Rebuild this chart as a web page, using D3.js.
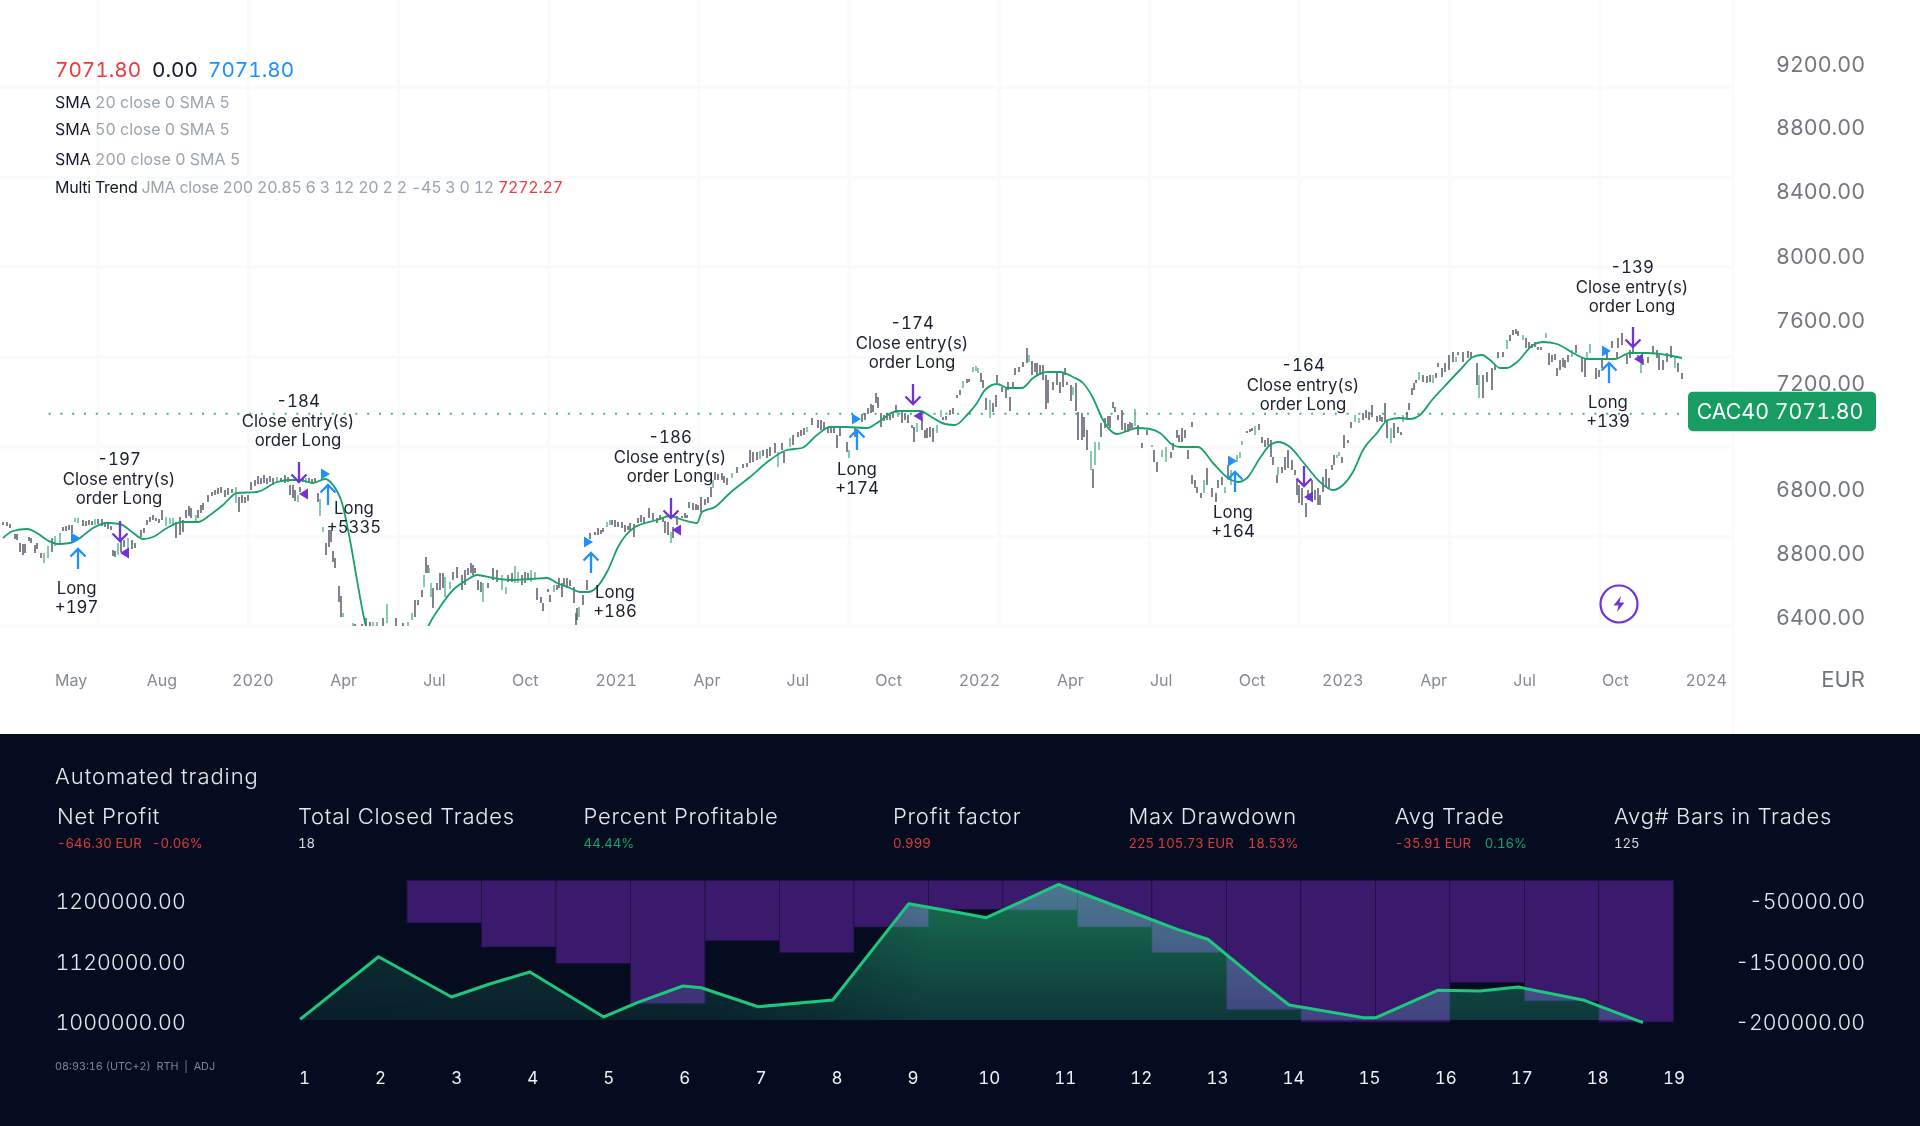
<!DOCTYPE html>
<html><head><meta charset="utf-8">
<script src="https://cdn.jsdelivr.net/npm/d3@7"></script>
<style>html,body{margin:0;padding:0;background:#fff}svg{display:block}text{font-family:Inter,sans-serif;font-variant-numeric:tabular-nums;font-feature-settings:"tnum" 1}</style>
</head><body><svg id="c" width="1920" height="1126"></svg>
<script>
// ---------- price chart data ----------
const quarterLabels=["May","Aug","2020","Apr","Jul","Oct","2021","Apr","Jul","Oct","2022","Apr","Jul","Oct","2023","Apr","Jul","Oct","2024"];
const priceTicks=[6400,6600,6800,7200,7600,8000,8400,8800,9200];
const priceTickLabels=["6400.00","8800.00","6800.00","7200.00","7600.00","8000.00","8400.00","8800.00","9200.00"];
const gridPrices=[8702,8253,7805,7355,6905,6458,6010];
const gridColumns=[0,1,2,3,4,5,6,7,8,9,10];
const lastPrice=7071.8;
const barSlot=[3,7,10,15,17,20,23,25,29,31,
35,37,41,44,48,52,55,60,63,66,
69,72,75,78,83,86,89,92,95,98,
102,105,108,111,113,115,118,121,124,128,
132,135,141,144,147,150,153,156,159,162,
166,170,173,176,180,183,186,189,191,196,
198,201,203,208,212,215,218,221,225,228,
232,236,239,242,245,248,251,255,258,261,
264,267,270,273,277,281,285,288,290,293,
295,298,300,303,306,309,312,315,318,320,
323,326,329,331,333,335,339,341,343,353,
355,362,366,370,373,377,383,387,396,403,
408,412,415,418,422,424,426,428,429,431,
433,437,440,443,445,450,453,457,462,465,
468,471,473,475,478,481,483,488,493,497,
502,506,508,512,515,518,522,525,528,531,
535,537,541,543,548,550,554,557,559,562,
564,567,570,574,576,577,579,583,587,590,
595,598,601,603,607,610,612,615,618,622,
625,628,630,634,638,641,644,649,653,657,
660,663,665,668,671,673,677,682,685,687,
689,693,696,698,701,705,708,711,713,715,
718,722,724,727,732,737,743,747,750,753,
757,760,763,767,770,775,778,782,784,790,
793,798,801,804,807,812,818,821,824,828,
831,834,837,840,847,849,855,862,865,868,
871,873,876,878,881,884,887,890,893,896,
898,902,905,908,912,914,917,922,925,927,
930,933,937,941,943,946,950,953,957,960,
963,967,969,973,976,978,981,983,986,990,
993,996,997,1002,1006,1008,1010,1013,1015,1019,
1023,1027,1029,1032,1035,1037,1040,1043,1046,1048,
1053,1057,1060,1063,1065,1067,1071,1073,1076,1078,
1082,1084,1087,1091,1093,1095,1099,1101,1105,1108,
1110,1113,1115,1118,1122,1125,1128,1130,1132,1135,
1138,1142,1147,1152,1154,1157,1162,1166,1171,1173,
1177,1179,1182,1185,1188,1192,1192,1195,1197,1201,
1204,1207,1212,1216,1218,1222,1225,1228,1231,1237,
1240,1242,1247,1250,1252,1255,1259,1262,1265,1268,
1271,1273,1277,1278,1282,1285,1288,1292,1295,1297,
1299,1302,1306,1308,1312,1315,1318,1320,1323,1326,
1329,1332,1334,1337,1339,1342,1344,1348,1351,1355,
1359,1363,1366,1369,1372,1377,1380,1382,1385,1387,
1391,1394,1398,1401,1403,1407,1409,1412,1414,1416,
1419,1423,1427,1430,1433,1436,1438,1442,1445,1449,
1453,1456,1458,1463,1468,1471,1477,1479,1483,1487,
1492,1495,1498,1503,1507,1510,1513,1516,1518,1523,
1526,1529,1532,1535,1538,1541,1546,1549,1552,1555,
1557,1560,1563,1565,1568,1572,1576,1582,1585,1587,
1590,1596,1599,1602,1607,1612,1617,1618,1622,1627,
1630,1633,1638,1641,1643,1648,1653,1657,1659,1663,
1667,1671,1675,1678,1682];
const barHigh=[6530,6530,6520,6470,6470,6425,6420,6420,6455,6450,
6415,6425,6375,6375,6410,6450,6460,6475,6505,6510,
6515,6515,6550,6550,6540,6535,6540,6535,6545,6545,
6545,6530,6520,6510,6390,6385,6425,6440,6440,6450,
6440,6425,6490,6500,6540,6555,6565,6550,6545,6590,
6555,6550,6550,6530,6555,6540,6590,6610,6600,6565,
6590,6615,6625,6665,6680,6690,6700,6705,6690,6700,
6695,6705,6655,6665,6655,6665,6730,6740,6760,6750,
6765,6750,6760,6750,6755,6750,6765,6755,6715,6715,
6690,6665,6705,6750,6750,6750,6745,6750,6675,6645,
6505,6425,6490,6490,6385,6350,6210,6160,6075,6025,
6020,6020,6050,6030,6030,6030,6050,6120,6050,6025,
6030,6075,6140,6140,6190,6265,6355,6315,6300,6225,
6200,6225,6275,6275,6255,6230,6280,6305,6265,6290,
6300,6325,6315,6300,6240,6230,6225,6225,6300,6290,
6265,6205,6265,6275,6310,6280,6265,6280,6275,6290,
6280,6200,6155,6125,6195,6165,6215,6215,6250,6225,
6250,6250,6240,6205,6075,6100,6105,6165,6240,6475,
6480,6500,6490,6500,6530,6540,6540,6540,6530,6530,
6515,6510,6525,6520,6550,6565,6555,6600,6575,6550,
6565,6555,6535,6530,6480,6505,6560,6560,6575,6565,
6630,6625,6620,6615,6655,6645,6655,6705,6740,6780,
6770,6775,6760,6750,6775,6805,6820,6825,6890,6880,
6880,6885,6890,6895,6905,6925,6880,6925,6880,6950,
6965,6980,6990,7000,7005,7050,7040,7040,7030,7005,
7000,7000,6965,7000,6930,6890,7005,7070,7075,7100,
7120,7115,7175,7155,7075,7065,7075,7065,7075,7115,
7090,7080,7075,7065,7015,7005,7025,7055,6990,7000,
7005,7000,7015,7090,7055,7060,7090,7100,7165,7190,
7235,7245,7245,7305,7310,7300,7275,7240,7150,7140,
7125,7165,7265,7205,7205,7230,7155,7230,7300,7305,
7330,7400,7365,7335,7325,7325,7315,7315,7265,7240,
7230,7275,7230,7275,7300,7230,7215,7205,7225,7080,
7075,7055,6990,6885,6795,6930,6930,7025,7050,7060,
7060,7130,7105,7065,7090,7025,7020,7030,7025,7095,
7015,6925,6990,6915,6890,6830,6890,6905,6880,6925,
6990,6965,7000,6990,6890,7030,6765,6740,6705,6675,
6740,6800,6700,6675,6740,6755,6705,6815,6790,6865,
6880,6935,6985,6995,7000,7010,7020,6955,6940,6950,
6940,6855,6765,6805,6805,6855,6890,6840,6790,6740,
6715,6700,6625,6690,6740,6690,6700,6665,6755,6795,
6750,6815,6865,6865,6880,6855,6965,6940,7030,7065,
7050,7075,7090,7080,7115,7060,7065,7055,7125,7040,
7000,7025,7005,6980,7065,7080,7125,7200,7225,7240,
7280,7265,7260,7265,7265,7275,7325,7300,7325,7365,
7380,7355,7380,7380,7385,7380,7325,7265,7265,7280,
7300,7315,7380,7380,7440,7465,7490,7495,7485,7465,
7450,7430,7420,7430,7405,7405,7475,7375,7365,7370,
7300,7340,7350,7340,7365,7390,7415,7355,7350,7380,
7420,7300,7290,7350,7375,7435,7380,7450,7475,7365,
7390,7400,7365,7325,7345,7355,7410,7390,7365,7340,
7375,7410,7355,7325,7275];
const barLow=[6515,6510,6500,6445,6440,6380,6365,6375,6435,6425,
6375,6395,6350,6325,6350,6380,6410,6415,6485,6485,
6490,6475,6530,6525,6510,6510,6515,6515,6515,6520,
6510,6505,6495,6490,6360,6355,6365,6380,6405,6355,
6395,6400,6455,6475,6515,6530,6540,6535,6525,6540,
6510,6520,6515,6450,6465,6480,6550,6560,6550,6530,
6550,6575,6590,6630,6660,6665,6670,6675,6655,6665,
6675,6625,6580,6625,6625,6635,6690,6710,6720,6720,
6725,6720,6730,6715,6725,6730,6725,6730,6665,6650,
6635,6630,6680,6730,6725,6725,6720,6725,6630,6560,
6480,6365,6405,6430,6330,6300,6130,6055,6055,6010,
6010,6010,6010,6010,6010,6010,6010,6025,6010,6010,
6010,6040,6055,6115,6155,6205,6275,6275,6275,6155,
6100,6190,6190,6200,6155,6195,6240,6250,6190,6215,
6265,6275,6265,6275,6190,6180,6130,6200,6240,6230,
6190,6170,6230,6230,6225,6225,6215,6225,6240,6230,
6240,6140,6125,6085,6180,6130,6180,6190,6200,6155,
6215,6200,6210,6125,6015,6040,6055,6115,6190,6445,
6465,6465,6470,6480,6505,6515,6515,6505,6505,6500,
6480,6490,6490,6455,6525,6530,6525,6550,6540,6525,
6540,6530,6475,6465,6425,6450,6515,6550,6550,6550,
6600,6590,6590,6590,6580,6615,6625,6655,6700,6740,
6740,6740,6725,6715,6750,6775,6800,6805,6825,6830,
6840,6845,6860,6850,6860,6875,6805,6890,6825,6905,
6915,6955,6960,6965,6980,7015,7000,6990,6990,6975,
6975,6975,6900,6960,6880,6850,6955,7030,7040,7070,
7075,7080,7125,7100,7005,7035,7040,7040,7050,7075,
7055,7025,7040,7025,7000,6930,6980,6990,6950,6950,
6955,6930,6975,7055,7040,7040,7065,7070,7150,7165,
7200,7225,7230,7280,7285,7275,7230,7200,7090,7050,
7080,7105,7225,7180,7150,7190,7085,7205,7265,7280,
7305,7325,7330,7265,7280,7265,7265,7240,7095,7125,
7190,7215,7175,7205,7265,7215,7135,7165,7085,6940,
6940,6955,6890,6790,6700,6815,6890,6955,7000,7010,
7000,7100,7080,7040,6990,6980,6980,6990,7000,7010,
6965,6900,6965,6905,6830,6780,6855,6830,6850,6890,
6950,6930,6930,6950,6845,7005,6720,6700,6675,6650,
6675,6715,6655,6630,6700,6715,6675,6750,6715,6830,
6850,6915,6975,6980,6985,6965,6990,6925,6905,6915,
6855,6815,6725,6765,6775,6790,6800,6790,6765,6665,
6625,6615,6555,6640,6665,6640,6615,6615,6680,6705,
6700,6790,6815,6850,6860,6825,6900,6925,7000,7030,
7025,7040,7050,7040,7055,7030,7035,7030,7030,6950,
6925,6950,6975,6965,7030,7050,7090,7165,7190,7225,
7240,7230,7225,7230,7225,7250,7305,7255,7280,7290,
7330,7330,7365,7330,7350,7350,7215,7150,7150,7230,
7190,7290,7350,7355,7395,7435,7465,7470,7460,7440,
7400,7400,7400,7405,7390,7390,7450,7315,7330,7340,
7260,7290,7305,7300,7330,7355,7375,7280,7255,7350,
7375,7245,7255,7300,7340,7400,7350,7400,7415,7320,
7350,7375,7340,7275,7315,7325,7375,7350,7290,7290,
7330,7350,7300,7280,7245];
const greenSlots=[44,48,55,60,75,78,95,118,128,166,170,173,196,236,277,298,306,320,323,343,353,373,377,387,408,412,424,429,431,445,450,483,502,506,515,518,531,535,554,579,607,610,671,713,732,760,778,790,807,849,898,917,937,941,963,973,976,978,990,1029,1073,1091,1095,1099,1135,1152,1162,1166,1204,1225,1231,1237,1240,1242,1255,1278,1337,1339,1355,1359,1391,1403,1419,1433,1456,1479,1507,1523,1546,1572,1587,1590,1641,1675];
const jmaSlot=[3,13,27,37,47,58,70,80,93,107,120,132,143,153,167,182,198,210,223,237,257,277,290,300,313,325,333,342,350,357,363,366,372,400,420,428,440,453,467,477,493,513,530,547,557,570,580,588,596,608,618,635,657,670,683,697,702,715,730,750,770,787,802,817,830,847,867,877,897,920,933,945,955,967,977,985,997,1008,1022,1033,1047,1060,1073,1083,1093,1102,1110,1117,1127,1137,1150,1160,1173,1180,1198,1213,1228,1238,1247,1260,1270,1278,1290,1303,1320,1333,1343,1353,1363,1377,1388,1400,1410,1420,1432,1443,1460,1473,1482,1490,1500,1507,1517,1533,1543,1557,1573,1588,1615,1630,1647,1667,1682];
const jmaValue=[6450,6485,6495,6475,6440,6420,6425,6450,6500,6525,6520,6480,6445,6455,6500,6530,6530,6565,6615,6675,6680,6730,6740,6740,6725,6745,6715,6625,6440,6240,6075,6005,5840,5690,5890,6005,6105,6190,6240,6265,6250,6240,6245,6250,6225,6200,6180,6180,6200,6290,6405,6505,6540,6560,6540,6525,6580,6605,6675,6755,6840,6890,6900,6965,7005,7005,7000,7025,7085,7085,7050,7020,7015,7065,7125,7190,7220,7200,7200,7250,7280,7280,7255,7225,7150,7050,6990,6970,6985,7000,6995,6975,6915,6905,6905,6825,6750,6730,6750,6850,6915,6930,6905,6830,6730,6690,6715,6780,6890,6975,7040,7050,7045,7065,7140,7200,7290,7355,7365,7340,7300,7300,7330,7415,7430,7420,7375,7345,7345,7375,7375,7365,7350];
// ---------- trade annotations ----------
const closeLabels=["-197","-184","-186","-174","-164","-139"];
const closeTextSlot=[119,298,670,912,1303,1632];
const closeTextPrice=[6845,7135,6955,7525,7315,7805];
const closeArrowSlot=[120,299,671,913,1304,1633];
const closeArrowPrice=[6535,6830,6650,7220,6810,7505];
const closeMarkSlot=[120,299,672,913.5,1304,1634];
const closeMarkPrice=[6375,6670,6490,7060,6655,7345];
const longLabels=["+197","+5335","+186","+174","+164","+139"];
const longTextSlot=[76.6,354,615,857,1233,1608];
const longTextPrice=[6200,6600,6180,6795,6580,7130];
const longArrowSlot=[78,328,591,857,1235,1609];
const longArrowPrice=[6395,6715,6375,6990,6780,7325];
const longMarkSlot=[71,321,584,852,1228,1602];
const longMarkPrice=[6450,6770,6430,7045,6835,7385];
// ---------- strategy report data ----------
const trades=d3.range(1,20);
const drawdownBars=d3.range(1,18);
const drawdownValues=[-84600,-124100,-150500,-184000,-113800,-133500,-91200,-62000,-63200,-91200,-133500,-189000,-199200,-199200,-166600,-181800,-199200];
const equityTrade=[0.95,1.98,2.94,3.44,3.97,4.94,5.38,5.98,6.22,6.97,7.95,8.95,9.62,9.97,10.92,12.12,12.48,12.88,13.6,13.95,14.93,15.09,15.9,16.46,16.96,17.83,18.6];
const equityValue=[1007400,1127900,1051700,1077600,1101500,1012000,1040400,1073600,1070200,1032400,1045800,1197800,1185900,1179300,1223300,1177600,1164000,1150900,1077000,1035800,1010500,1010500,1065100,1063700,1071600,1045200,1000600];
const equityBase=1006000;
const equityTicks=[1000000,1120000,1200000];
const drawdownTicks=[-50000,-150000,-200000];
const metricTitles=["Net Profit","Total Closed Trades","Percent Profitable","Profit factor","Max Drawdown","Avg Trade","Avg# Bars in Trades"];
const metricX=[57,298,583.6,893,1128.4,1394.8,1614];
const metricValues=[[["-646.30 EUR","r",57],["-0.06%","r",152]],[["18","w",298]],[["44.44%","g",583.6]],[["0.999","r",893]],[["225 105.73 EUR","r",1128.4],["18.53%","r",1247.8]],[["-35.91 EUR","r",1394.8],["0.16%","g",1484.8]],[["125","w",1614]]];

const C={red:"#f0393f",ink:"#131a2b",blue:"#1e90ff",gray:"#9aa3af",axis:"#72767f",grid:"#f9fafb",up:"#5db88f",down:"#565a68",line:"#19a266",purple:"#7033d8",bg:"#060c1f",text:"#e6e8ec",subRed:"#e03a3e",subGreen:"#12a56f",bar:"#3b1a6e"};

const svg=d3.select("#c");
// scales
const x=d3.scaleLinear().domain([0,1733]).range([0,1733]);
const y=d3.scaleLinear().domain([9140,6010]).range([0,626]);
const xQuarter=d3.scaleLinear().domain([0,18]).range([70.6,1705.7]);
const xGrid=d3.scaleLinear().domain([0,10]).range([98,1600]);
const yTick=d3.scaleLinear().domain(priceTicks).range([617.5,553.5,490,384,320.5,256.5,192,128,64.7]);
// grid
const grid=svg.append("g").attr("stroke",C.grid).attr("stroke-width",3);
grid.selectAll(".h").data(gridPrices).join("line").attr("x1",0).attr("x2",x(1733)).attr("y1",d=>y(d)).attr("y2",d=>y(d));
grid.selectAll(".v").data(gridColumns).join("line").attr("x1",d=>xGrid(d)).attr("x2",d=>xGrid(d)).attr("y1",0).attr("y2",y(6010));
svg.append("line").attr("x1",x(1733)).attr("x2",x(1733)).attr("y1",0).attr("y2",734).attr("stroke",C.grid).attr("stroke-width",2);
// last price line
svg.append("line").attr("x1",48.6).attr("x2",1688).attr("y1",y(lastPrice)).attr("y2",y(lastPrice)).attr("stroke","#3fb58a").attr("stroke-width",2).attr("stroke-dasharray","2 9.8");
// clip
svg.append("defs").append("clipPath").attr("id","pc").append("rect").attr("x",0).attr("y",0).attr("width",1733).attr("height",y(6010));
const plot=svg.append("g").attr("clip-path","url(#pc)");
const greens=new Set(greenSlots);
plot.append("g").selectAll("line").data(barSlot).join("line")
 .attr("x1",d=>x(d)).attr("x2",d=>x(d)).attr("y1",(d,i)=>y(barHigh[i])).attr("y2",(d,i)=>y(barLow[i]))
 .attr("stroke",d=>greens.has(d)?C.up:C.down).attr("stroke-width",1.5);
const jma=d3.line().x(d=>x(d[0])).y(d=>y(d[1])).curve(d3.curveMonotoneX);
plot.append("path").attr("d",jma(jmaSlot.map((s,i)=>[s,jmaValue[i]]))).attr("fill","none").attr("stroke",C.line).attr("stroke-width",1.8);
// trade markers
function arrow(g,cx,tip,dir,col){ // dir 1 = pointing up (tip is top), -1 = pointing down (tip is bottom)
  const len=20,hw=7.5,hh=7.5;
  g.append("path").attr("d",`M${cx},${tip}L${cx},${tip+dir*len}M${cx-hw},${tip+dir*hh}L${cx},${tip}L${cx+hw},${tip+dir*hh}`)
   .attr("fill","none").attr("stroke",col).attr("stroke-width",2.3);
}
const marks=svg.append("g");
closeArrowSlot.forEach((s,i)=>{
  arrow(marks,x(s),y(closeArrowPrice[i])+20,-1,C.purple);
  const tx=x(closeMarkSlot[i]),ty=y(closeMarkPrice[i]);
  marks.append("path").attr("d",`M${tx},${ty}L${tx+9},${ty-5.5}L${tx+9},${ty+5.5}Z`).attr("fill",C.purple);
});
longArrowSlot.forEach((s,i)=>{
  arrow(marks,x(s),y(longArrowPrice[i]),1,C.blue);
  const tx=x(longMarkSlot[i]),ty=y(longMarkPrice[i]);
  marks.append("path").attr("d",`M${tx},${ty-5.5}L${tx+9},${ty}L${tx},${ty+5.5}Z`).attr("fill",C.blue);
});
function stack(cx,cy,lines,step){
  const t=svg.append("text").attr("text-anchor","middle").attr("font-size",16.8).attr("fill","#1b2030");
  lines.forEach((l,i)=>t.append("tspan").attr("x",cx).attr("y",cy+i*step).attr("dy","0.36em").text(l));
}
closeLabels.forEach((l,i)=>stack(x(closeTextSlot[i]),y(closeTextPrice[i]),[l,"Close entry(s)","order Long"],19.5));
longLabels.forEach((l,i)=>stack(x(longTextSlot[i]),y(longTextPrice[i]),["Long",l],19));
// lightning badge
const bx=1619,by=604;
svg.append("circle").attr("cx",bx).attr("cy",by).attr("r",18.5).attr("fill","#fff").attr("stroke",C.purple).attr("stroke-width",2.2);
svg.append("path").attr("d",`M${bx+2},${by-8}L${bx-5.5},${by+1.5}H${bx-0.5}L${bx-2},${by+8}L${bx+5.5},${by-1.5}H${bx+0.5}Z`).attr("fill",C.purple);
// axes
const yAxis=d3.axisRight(yTick).tickValues(priceTicks).tickSize(0).tickFormat(d=>priceTickLabels[priceTicks.indexOf(d)]);
const gy=svg.append("g").attr("transform","translate(1865,0)").call(yAxis);
gy.select(".domain").remove();
gy.selectAll("text").attr("x",0).attr("text-anchor","end").attr("font-size",21.4).attr("fill",C.axis).attr("font-family","Inter");
svg.append("text").attr("x",1865).attr("y",679).attr("dy","0.36em").attr("text-anchor","end").attr("font-size",22).attr("fill",C.axis).text("EUR");
const xAxis=d3.axisBottom(xQuarter).tickValues(d3.range(19)).tickSize(0).tickFormat(d=>quarterLabels[d]);
const gx=svg.append("g").attr("transform","translate(0,680)").call(xAxis);
gx.select(".domain").remove();
gx.selectAll("text").attr("y",0).attr("dy","0.36em").attr("font-size",16).attr("fill","#858993").attr("font-family","Inter");
// last price tag
const tagY=y(lastPrice);
svg.append("rect").attr("x",1688).attr("y",tagY-22).attr("width",188).attr("height",39.5).attr("rx",5).attr("fill","#179c62");
svg.append("text").attr("x",1780).attr("y",tagY-2.5).attr("dy","0.36em").attr("text-anchor","middle").attr("font-size",21.3).attr("fill","#fff").text("CAC40 7071.80");
// legend
const ohlc=svg.append("g").attr("font-size",20.7);
[["7071.80",55,C.red],["0.00",152,C.ink],["7071.80",208,C.blue]].forEach(a=>ohlc.append("text").attr("x",a[1]).attr("y",70).attr("dy","0.36em").attr("fill",a[2]).text(a[0]));
[["SMA","20 close 0 SMA 5",102],["SMA","50 close 0 SMA 5",129],["SMA","200 close 0 SMA 5",159],["Multi Trend","JMA close 200 20.85 6 3 12 20 2 2 -45 3 0 12",187]].forEach((a,i)=>{
  const t=svg.append("text").attr("x",55).attr("y",a[2]).attr("dy","0.36em").attr("font-size",16);
  if(i===3)t.attr("letter-spacing",-0.25);
  t.append("tspan").attr("fill",C.ink).text(a[0]+" ");
  t.append("tspan").attr("fill",C.gray).text(a[1]);
  if(i===3)t.append("tspan").attr("fill",C.red).text(" 7272.27");
});
// ---------- dark panel ----------
svg.append("rect").attr("x",0).attr("y",734).attr("width",1920).attr("height",392).attr("fill",C.bg);
svg.append("text").attr("x",55).attr("y",776.5).attr("dy","0.36em").attr("font-size",22).attr("letter-spacing",0.93).attr("font-weight",300).attr("fill",C.text).text("Automated trading");
metricTitles.forEach((t,i)=>{
  svg.append("text").attr("x",metricX[i]).attr("y",816.5).attr("dy","0.36em").attr("font-size",22).attr("letter-spacing",0.75).attr("font-weight",300).attr("fill",C.text).text(t);
  const v=svg.append("g").attr("font-size",13.2);
  metricValues[i].forEach(p=>v.append("text").attr("x",p[2]).attr("y",843).attr("dy","0.36em").attr("fill",p[1]==="r"?C.subRed:p[1]==="g"?C.subGreen:"#d8dae0").text(p[0]));
});
const xTrade=d3.scaleLinear().domain([1,19]).range([304,1673.4]);
const xBars=d3.scaleBand().domain(drawdownBars).range([407,1673.4]);
const yDraw=d3.scaleLinear().domain([-35000,-50000,-150000,-200000]).range([880.3,902,962.7,1023]);
const yEq=d3.scaleLinear().domain([1000000,1120000,1200000]).range([1023,962.7,902]);
svg.append("g").selectAll("rect").data(drawdownValues).join("rect")
 .attr("x",(d,i)=>xBars(i+1)).attr("width",xBars.bandwidth()).attr("y",yDraw(-35000)).attr("height",d=>yDraw(d)-yDraw(-35000))
 .attr("fill",C.bar).attr("stroke","#1b1240").attr("stroke-width",0.8);
const defs=svg.select("defs");
const gv=defs.append("linearGradient").attr("id","eqFill").attr("gradientUnits","userSpaceOnUse").attr("x1",0).attr("x2",0).attr("y1",884).attr("y2",1023);
gv.append("stop").attr("offset",0).attr("stop-color","#126a38");
gv.append("stop").attr("offset",1).attr("stop-color","#082c1e");
const gh=defs.append("linearGradient").attr("id","eqFade").attr("gradientUnits","userSpaceOnUse").attr("x1",300).attr("x2",1000).attr("y1",0).attr("y2",0);
gh.append("stop").attr("offset",0).attr("stop-color","#fff").attr("stop-opacity",.42);
gh.append("stop").attr("offset",.6).attr("stop-color","#fff").attr("stop-opacity",.5);
gh.append("stop").attr("offset",.9).attr("stop-color","#fff").attr("stop-opacity",1);
defs.append("mask").attr("id","eqMask").attr("maskUnits","userSpaceOnUse").attr("x",0).attr("y",734).attr("width",1920).attr("height",392)
 .append("rect").attr("x",0).attr("y",734).attr("width",1920).attr("height",392).attr("fill","url(#eqFade)");
const eqPts=equityTrade.map((t,i)=>[t,equityValue[i]]);
const eqArea=d3.area().x(d=>xTrade(d[0])).y0(d=>yEq(equityBase)).y1(d=>yEq(d[1]));
svg.append("g").attr("mask","url(#eqMask)").style("mix-blend-mode","screen").append("path").attr("d",eqArea(eqPts)).attr("fill","url(#eqFill)");
const eqLine=d3.line().x(d=>xTrade(d[0])).y(d=>yEq(d[1]));
svg.append("path").attr("d",eqLine(eqPts)).attr("fill","none").attr("stroke","#1cc77e").attr("stroke-width",3).attr("stroke-linejoin","round");
// report axes
const eqAxis=d3.axisLeft(yEq).tickValues(equityTicks).tickSize(0).tickFormat(d3.format(".2f"));
const ge=svg.append("g").attr("transform","translate(55.5,0)").call(eqAxis);
ge.select(".domain").remove();
ge.selectAll("text").attr("x",0).attr("text-anchor","start").attr("font-size",21.4).attr("font-weight",300).attr("fill",C.text).attr("font-family","Inter");
const ddAxis=d3.axisRight(yDraw).tickValues(drawdownTicks).tickSize(0).tickFormat(d3.format(".2f"));
const gd=svg.append("g").attr("transform","translate(1865,0)").call(ddAxis);
gd.select(".domain").remove();
gd.selectAll("text").attr("x",0).attr("text-anchor","end").attr("font-size",21.3).attr("font-weight",300).attr("fill",C.text).attr("font-family","Inter").text(d=>d.toFixed(2));
const tAxis=d3.axisBottom(xTrade).tickValues(trades).tickSize(0).tickFormat(d3.format("d"));
const gt=svg.append("g").attr("transform","translate(0,1077.7)").call(tAxis);
gt.select(".domain").remove();
gt.selectAll("text").attr("y",0).attr("dy","0.36em").attr("font-size",17).attr("fill","#f0f1f4").attr("font-family","Inter");
svg.append("text").attr("x",55).attr("y",1066).attr("dy","0.36em").attr("font-size",10.8).attr("fill","#7f8590").attr("xml:space","preserve").text("08:93:16 (UTC+2)  RTH  |  ADJ");
</script></body></html>
